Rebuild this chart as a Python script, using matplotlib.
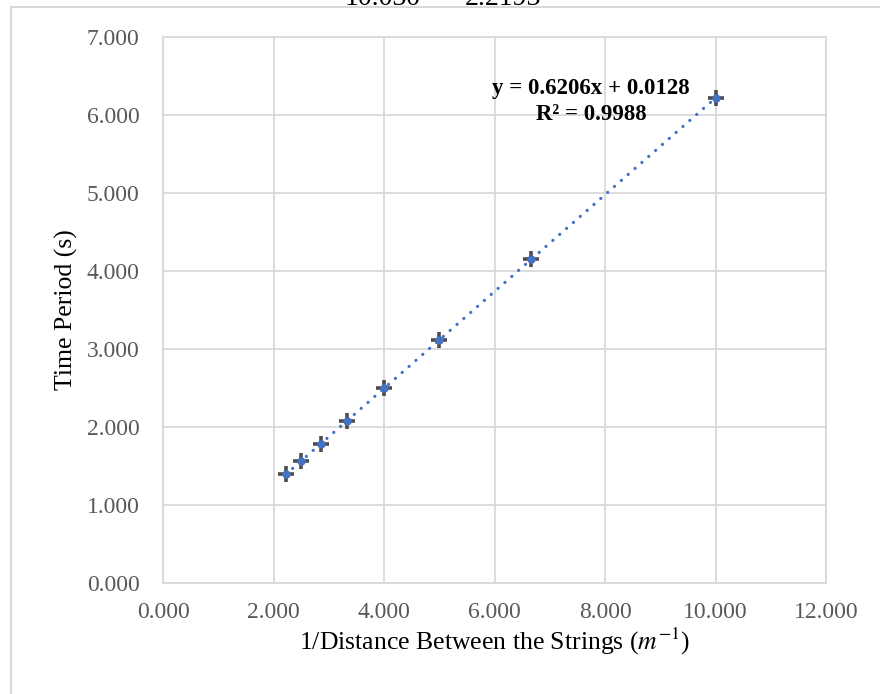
import matplotlib
matplotlib.use("Agg")
import matplotlib.pyplot as plt
import numpy as np
from matplotlib.patches import Rectangle

# data
inv_dist = [2.222, 2.500, 2.857, 3.333, 4.000, 5.000, 6.667, 10.000]
period = [1.395, 1.570, 1.780, 2.080, 2.495, 3.120, 4.150, 6.220]
slope, intercept = 0.6206, 0.0128
r2 = 0.9988

x_ticks = np.arange(0, 12.001, 2)
y_ticks = np.arange(0, 7.001, 1)

plt.rcParams["mathtext.fontset"] = "stix"
tick_font = "Liberation Serif"
label_font = "Liberation Serif"
grid_col = "#d9d9d9"
blue = "#4472c4"

fig = plt.figure(figsize=(8.8, 6.94), dpi=100)
ax = fig.add_axes([163 / 880, 1 - 583 / 694, (826 - 163) / 880, (583 - 37) / 694])

ax.set_xlim(0, 12)
ax.set_ylim(0, 7)
ax.set_xticks(x_ticks)
ax.set_yticks(y_ticks)
ax.set_xticklabels([f"{v:.3f}" for v in x_ticks], fontfamily=tick_font,
                   fontsize=17, color="#595959")
ax.set_yticklabels([f"{v:.3f}" for v in y_ticks], fontfamily=tick_font,
                   fontsize=17, color="#595959")
ax.tick_params(axis="y", length=0, pad=17)
ax.tick_params(axis="x", length=0, pad=14)
ax.grid(True, color=grid_col, linewidth=1.3)
ax.set_axisbelow(True)
for s in ax.spines.values():
    s.set_color(grid_col)
    s.set_linewidth(1.3)

# trendline
xs = np.array([min(inv_dist), max(inv_dist)])
ax.plot(xs, slope * xs + intercept, color=blue, linewidth=2.3,
        linestyle=(0, (0.05, 2.8)), dash_capstyle="round", zorder=3)

# markers
ax.plot(inv_dist, period, linestyle="none", marker="+", markersize=11,
        markeredgewidth=2.6, color="#4d4d4d", zorder=4)
ax.plot(inv_dist, period, linestyle="none", marker="o", markersize=6,
        color=blue, markeredgewidth=0, zorder=5)

ax.text(7.75, 6.34, f"y = {slope:.4f}x + {intercept:.4f}", ha="center",
        va="center", fontfamily=label_font, fontweight="bold", fontsize=16.5)
ax.text(7.75, 6.00, f"R² = {r2:.4f}", ha="center", va="center",
        fontfamily=label_font, fontweight="bold", fontsize=16.5)

ax.set_ylabel("Time Period (s)", fontfamily=label_font, fontsize=18.5, labelpad=6)
ax.set_xlabel("1/Distance Between the Strings ($m^{-1}$)", fontfamily=label_font,
              fontsize=18.5, labelpad=2)

# chart border and cropped text from the page above
fig.add_artist(Rectangle((11 / 880, -0.1), 1.2, 1 - 7 / 694 + 0.1,
                         transform=fig.transFigure, fill=False,
                         edgecolor=grid_col, linewidth=1.5))
fig.text(345 / 880, 1 - 5 / 694, "10.030", fontfamily=label_font, fontsize=20,
         va="baseline", ha="left")
fig.text(465 / 880, 1 - 5 / 694, "2.2193", fontfamily=label_font, fontsize=20,
         va="baseline", ha="left")

fig.savefig("out.png", dpi=100)
